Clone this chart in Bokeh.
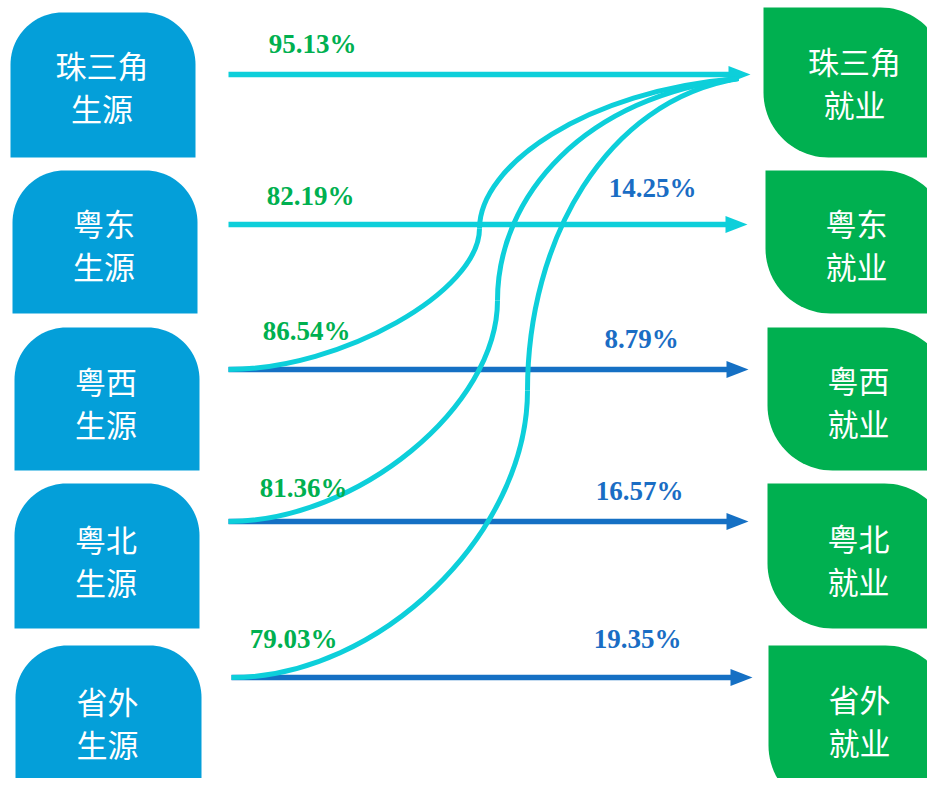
import numpy as np
from bokeh.plotting import figure
from bokeh.models import Range1d
from bokeh.core.properties import value
from bokeh.embed import file_html
from bokeh.resources import INLINE

# ---------------- data ----------------
regions = ["珠三角", "粤东", "粤西", "粤北", "省外"]
source_suffix = "生源"
job_suffix = "就业"
# green labels (left side of each row)
left_pct = [95.13, 82.19, 86.54, 81.36, 79.03]
# blue labels (right side of rows 2..5)
right_pct = [None, 14.25, 8.79, 16.57, 19.35]
# rows whose graduates also flow to the 珠三角 row (curves)
flow_to_first = [False, False, True, True, True]
# arrow kind per row: "local" (cyan) or "other" (blue)
arrow_kind = ["local", "local", "other", "other", "other"]

# ---------------- layout (screen pixels of the reference) ----------------
row_y = [74, 224, 369, 521, 677]
arrow_x0 = [228, 228, 228, 228, 231]
arrow_x1 = [750, 747, 748, 748, 752]
left_box = [(10, 195, 12, 157), (12, 197, 170, 313), (14, 199, 327, 470),
            (14, 199, 483, 628), (15, 201, 645, 810)]
right_box = [(763, 945, 7, 157), (765, 947, 170, 313), (767, 949, 327, 470),
             (767, 949, 483, 628), (768, 950, 645, 810)]
left_text_y = [64, 222, 380, 538, 700]
right_text_y = [60, 222, 379, 537, 698]
left_label_x = [312, 310, 306, 303, 293]
left_label_dy = [-31, -29, -39, -34, -39]
right_label_x = [0, 652, 641, 639, 637]
right_label_dy = [0, -37, -31, -31, -39]
# curve geometry: point where the curve runs vertically, and control arms
curve_mid = [None, None, (479, 228), (497, 300), (527, 390)]
curve_lo_cx = [0, 0, 341, 357, 379]       # first control x (bottom half)
curve_lo_cy = [0, 0, 291, 406, 533]       # second control y (bottom half)
curve_hi_cy = [0, 0, 165, 195, 240]       # first control y (top half)
curve_hi_c2 = [None, None, (585, 90), (585, 95), (605, 100)]
curve_end = (738, 78)

BLUE_BOX = "#049fd9"
GREEN_BOX = "#00b050"
CYAN = "#0dcfda"
DARK_BLUE = "#1570c4"
GREEN_TXT = "#00b050"
BLUE_TXT = "#1a6dc4"

W, H = 927, 778
p = figure(width=W, height=H, x_range=Range1d(0, W), y_range=Range1d(H, 0),
           output_backend="svg", toolbar_location=None, min_border=0)
p.axis.visible = False
p.xgrid.visible = False
p.ygrid.visible = False
p.outline_line_color = None
p.background_fill_color = "white"
p.border_fill_color = "white"


def arc(cx, cy, r, a0, a1, n=24):
    a = np.radians(np.linspace(a0, a1, n))
    return list(cx + r * np.cos(a)), list(cy + r * np.sin(a))


def box_path(x0, x1, y0, y1, radii):
    # radii: top-left, top-right, bottom-right, bottom-left (y axis points down)
    tl, tr, br, bl = radii
    xs, ys = [], []
    for (cx, cy, r, a0, a1, px, py) in [
        (x0 + tl, y0 + tl, tl, 180, 270, x0, y0),
        (x1 - tr, y0 + tr, tr, 270, 360, x1, y0),
        (x1 - br, y1 - br, br, 0, 90, x1, y1),
        (x0 + bl, y1 - bl, bl, 90, 180, x0, y1),
    ]:
        if r > 0:
            ax, ay = arc(cx, cy, r, a0, a1)
            xs += ax
            ys += ay
        else:
            xs.append(px)
            ys.append(py)
    return xs, ys


lxs, lys, rxs, rys = [], [], [], []
for i in range(len(regions)):
    x0, x1, y0, y1 = left_box[i]
    a, b = box_path(x0, x1, y0, y1, (52, 52, 0, 0))
    lxs.append(a); lys.append(b)
    x0, x1, y0, y1 = right_box[i]
    a, b = box_path(x0, x1, y0, y1, (0, 65, 0, 65))
    rxs.append(a); rys.append(b)

p.patches(lxs, lys, fill_color=BLUE_BOX, line_color=None)
p.patches(rxs, rys, fill_color=GREEN_BOX, line_color=None)

# box texts
cjk = value("Noto Sans CJK SC")
for i, name in enumerate(regions):
    x0, x1, y0, y1 = left_box[i]
    cx = (x0 + x1) / 2 - 1
    cy = left_text_y[i]
    p.text(x=[cx, cx], y=[cy, cy + 43], text=[name, source_suffix],
           text_font=cjk, text_font_size="31px", text_color="white",
           text_align="center", text_baseline="middle")
    x0, x1, y0, y1 = right_box[i]
    cx = x0 + 91
    cy = right_text_y[i]
    p.text(x=[cx, cx], y=[cy, cy + 43], text=[name, job_suffix],
           text_font=cjk, text_font_size="31px", text_color="white",
           text_align="center", text_baseline="middle")

# arrows
head_len, head_half = 22, 8.5
for i in range(len(regions)):
    col = CYAN if arrow_kind[i] == "local" else DARK_BLUE
    y = row_y[i]
    p.segment(x0=[arrow_x0[i]], y0=[y], x1=[arrow_x1[i] - head_len + 2], y1=[y],
              line_color=col, line_width=5.5)
    p.patch([arrow_x1[i], arrow_x1[i] - head_len, arrow_x1[i] - head_len],
            [y, y - head_half, y + head_half], fill_color=col, line_color=None)

# curves to the first row's arrow head (two cubic pieces each)
bx0, by0, bx1, by1, bcx0, bcy0, bcx1, bcy1 = [], [], [], [], [], [], [], []
for i in range(len(regions)):
    if not flow_to_first[i]:
        continue
    sx, sy = arrow_x0[i], row_y[i]
    mx, my = curve_mid[i]
    # bottom half: horizontal start -> vertical middle
    bx0.append(sx); by0.append(sy); bx1.append(mx); by1.append(my)
    bcx0.append(curve_lo_cx[i]); bcy0.append(sy)
    bcx1.append(mx); bcy1.append(curve_lo_cy[i])
    # top half: vertical middle -> arrow head
    bx0.append(mx); by0.append(my); bx1.append(curve_end[0]); by1.append(curve_end[1])
    bcx0.append(mx); bcy0.append(curve_hi_cy[i])
    bcx1.append(curve_hi_c2[i][0]); bcy1.append(curve_hi_c2[i][1])
p.bezier(x0=bx0, y0=by0, x1=bx1, y1=by1, cx0=bcx0, cy0=bcy0, cx1=bcx1, cy1=bcy1,
         line_color=CYAN, line_width=5)

# percentage labels
serif = value("Liberation Serif")
for i in range(len(regions)):
    p.text(x=[left_label_x[i]], y=[row_y[i] + left_label_dy[i]],
           text=[f"{left_pct[i]:.2f}%"], text_font=serif, text_font_style="bold",
           text_font_size="27px", text_color=GREEN_TXT,
           text_align="center", text_baseline="middle")
    if right_pct[i] is not None:
        p.text(x=[right_label_x[i]], y=[row_y[i] + right_label_dy[i]],
               text=[f"{right_pct[i]:.2f}%"], text_font=serif, text_font_style="bold",
               text_font_size="27px", text_color=BLUE_TXT,
               text_align="center", text_baseline="middle")

open("out.html", "w").write(file_html(p, INLINE))
